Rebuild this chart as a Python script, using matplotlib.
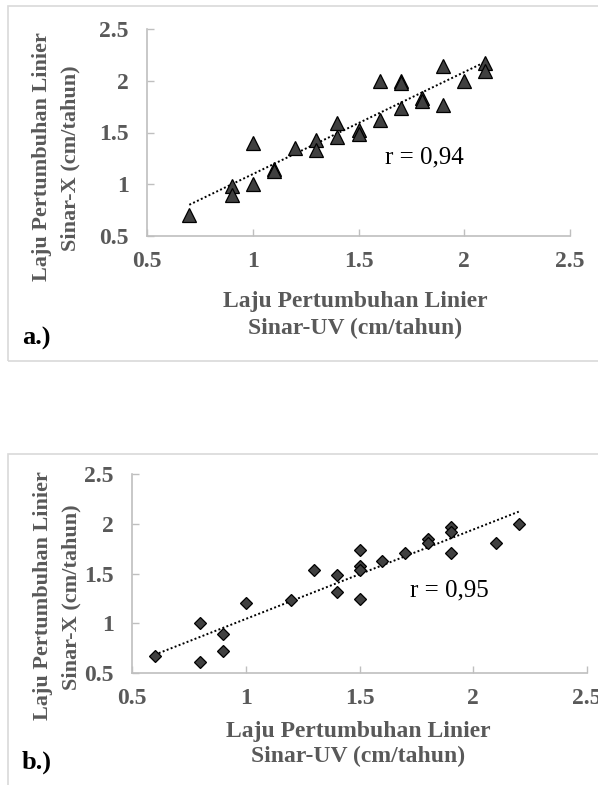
import numpy as np
import matplotlib.pyplot as plt
from matplotlib.patches import Rectangle

plt.rcParams['font.family'] = 'Liberation Serif'

# panel a: Sinar-UV vs Sinar-X (triangles)
uv_a = [0.7, 0.9, 0.9, 1.0, 1.0, 1.1, 1.1, 1.2, 1.3, 1.3, 1.4, 1.4, 1.5, 1.5,
        1.6, 1.6, 1.7, 1.7, 1.7, 1.8, 1.8, 1.9, 1.9, 2.0, 2.1, 2.1]
x_a = [0.70, 0.98, 0.90, 1.00, 1.40, 1.15, 1.13, 1.35, 1.43, 1.33, 1.59, 1.46, 1.52, 1.49,
       2.00, 1.62, 2.00, 1.98, 1.74, 1.83, 1.80, 2.14, 1.77, 2.00, 2.17, 2.09]
r_a = "r = 0,94"

# panel b (diamonds)
uv_b = [0.6, 0.8, 0.8, 0.9, 0.9, 1.0, 1.2, 1.3, 1.4, 1.4, 1.5, 1.5, 1.5, 1.5,
        1.6, 1.7, 1.8, 1.8, 1.9, 1.9, 1.9, 2.1, 2.2]
x_b = [0.67, 1.00, 0.61, 0.89, 0.72, 1.20, 1.23, 1.54, 1.48, 1.31, 1.74, 1.58, 1.54, 1.24,
       1.63, 1.71, 1.85, 1.81, 1.97, 1.92, 1.71, 1.81, 2.00]
r_b = "r = 0,95"

ticks = [0.5, 1, 1.5, 2, 2.5]
tick_labels = ["0.5", "1", "1.5", "2", "2.5"]
xlab = ["Laju Pertumbuhan Linier", "Sinar-UV (cm/tahun)"]
ylab = ["Laju Pertumbuhan Linier", "Sinar-X (cm/tahun)"]

W, H = 598, 785
fig = plt.figure(figsize=(W / 100, H / 100), dpi=100)


def px(x0, y0, x1, y1):
    # pixel box -> figure fraction [left, bottom, width, height]
    return [x0 / W, 1 - y1 / H, (x1 - x0) / W, (y1 - y0) / H]


def ftext(x, y, s, **kw):
    fig.text(x / W, 1 - y / H, s, **kw)


grey = "#595959"
axcol = "#bfbfbf"

# outer boxes
fig.add_artist(Rectangle((8 / W, 1 - 361 / H), 600 / W, 355 / H, transform=fig.transFigure,
                         fill=False, edgecolor="#d9d9d9", lw=1.2))
fig.add_artist(Rectangle((8 / W, -0.05), 600 / W, 1 - 454 / H + 0.05, transform=fig.transFigure,
                         fill=False, edgecolor="#d9d9d9", lw=1.2))


def panel(rect, uv, xr, marker, ms, rtxt, rpos):
    ax = fig.add_axes(rect)
    ax.plot(uv, xr, linestyle="none", marker=marker, ms=ms, mfc="#404040", mec="black",
            mew=0.9, zorder=3)
    k, b = np.polyfit(uv, xr, 1)
    xs = np.array([min(uv), max(uv)])
    ax.plot(xs, k * xs + b, linestyle=(0, (1, 1.2)), color="black", lw=1.4, zorder=2)
    ax.set_xlim(0.5, 2.5)
    ax.set_ylim(0.5, 2.5)
    ax.set_xticks(ticks)
    ax.set_xticklabels(tick_labels)
    ax.set_yticks(ticks)
    ax.set_yticklabels(tick_labels)
    for s in ["top", "right"]:
        ax.spines[s].set_visible(False)
    for s in ["left", "bottom"]:
        ax.spines[s].set_color(axcol)
        ax.spines[s].set_linewidth(1.2)
    ax.tick_params(direction="in", length=5, width=1, color=axcol, labelcolor=grey,
                   labelsize=17)
    ax.tick_params(axis="x", pad=11)
    ax.tick_params(axis="y", pad=13)
    for t in ax.get_xticklabels() + ax.get_yticklabels():
        t.set_fontweight("bold")
    ax.text(rpos[0], rpos[1], rtxt, fontsize=18, color="black", va="center", ha="left")
    ax.patch.set_visible(False)
    return ax


panel(px(147, 29, 570, 236), uv_a, x_a, "^", 9.5, r_a, (1.625, 1.26))
panel(px(132, 474, 587, 673), uv_b, x_b, "D", 6, r_b, (1.72, 1.33))

lab = dict(fontsize=17, fontweight="bold", color=grey, ha="center", va="center")
ylb = dict(lab, fontsize=16, rotation=90)
# panel a labels
ftext(355, 302, xlab[0], **lab)
ftext(355, 328, xlab[1], **lab)
ftext(42, 157, ylab[0], **ylb)
ftext(70, 158, ylab[1], **ylb)
ftext(22, 338, "a.)", fontsize=19, fontweight="bold", color="black", ha="left", va="center")

# panel b labels
ftext(358, 731, xlab[0], **lab)
ftext(358, 756, xlab[1], **lab)
ftext(43, 596, ylab[0], **ylb)
ftext(71, 597, ylab[1], **ylb)
ftext(22, 762, "b.)", fontsize=19, fontweight="bold", color="black", ha="left", va="center")

fig.savefig("out.png", dpi=100)
